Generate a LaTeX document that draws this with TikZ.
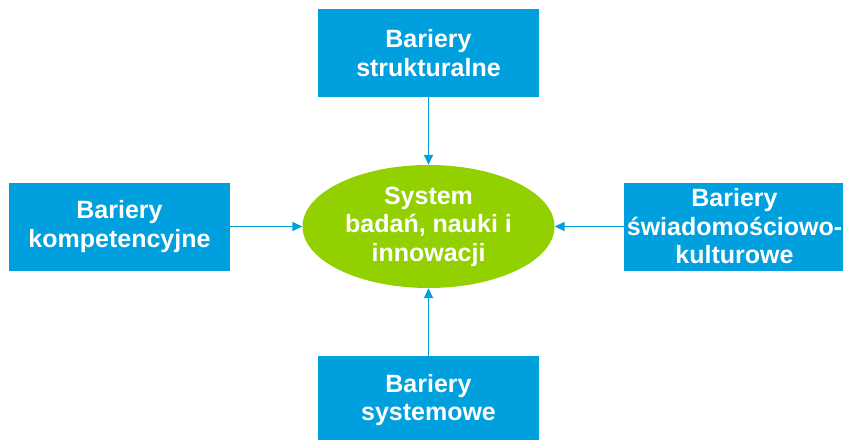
\documentclass[tikz,border=0pt]{standalone}
\usepackage{fontspec}
\setmainfont{Liberation Sans}
\usetikzlibrary{shapes.geometric,arrows.meta}
\definecolor{barblue}{RGB}{0,160,223}
\definecolor{sysgreen}{RGB}{146,208,0}
\begin{document}
\begin{tikzpicture}[x=1pt,y=-1pt,
  barbox/.style={fill=barblue, text=white, minimum width=221pt, minimum height=88pt,
    inner sep=0pt, align=center, font=\bfseries\fontsize{25}{28.5}\selectfont},
  sysell/.style={ellipse, fill=sysgreen, text=white, minimum width=252pt, minimum height=123pt,
    inner sep=0pt, align=center, font=\bfseries\fontsize{25}{28.5}\selectfont},
  conn/.style={draw=barblue, line width=1.6pt, -{Triangle[width=9pt,length=10pt]}}]
\useasboundingbox (0,0) rectangle (843,439);
\node[sysell] (sys) at (428.5,226.5) {System\\badań, nauki i\\innowacji};
\node[barbox] (top) at (428.5,53) {Bariery\\strukturalne};
\node[barbox] (left) at (119.5,226.5) {Bariery\\kompetencyjne};
\node[barbox] (right) at (734.5,226.5) {Bariery\\świadomościowo-\\kulturowe};
\node[barbox] (bottom) at (428.5,400) {Bariery\\systemowe};
\draw[conn] (top) -- (sys);
\draw[conn] (bottom) -- (sys);
\draw[conn] (left) -- (sys);
\draw[conn] (right) -- (sys);
\end{tikzpicture}
\end{document}
